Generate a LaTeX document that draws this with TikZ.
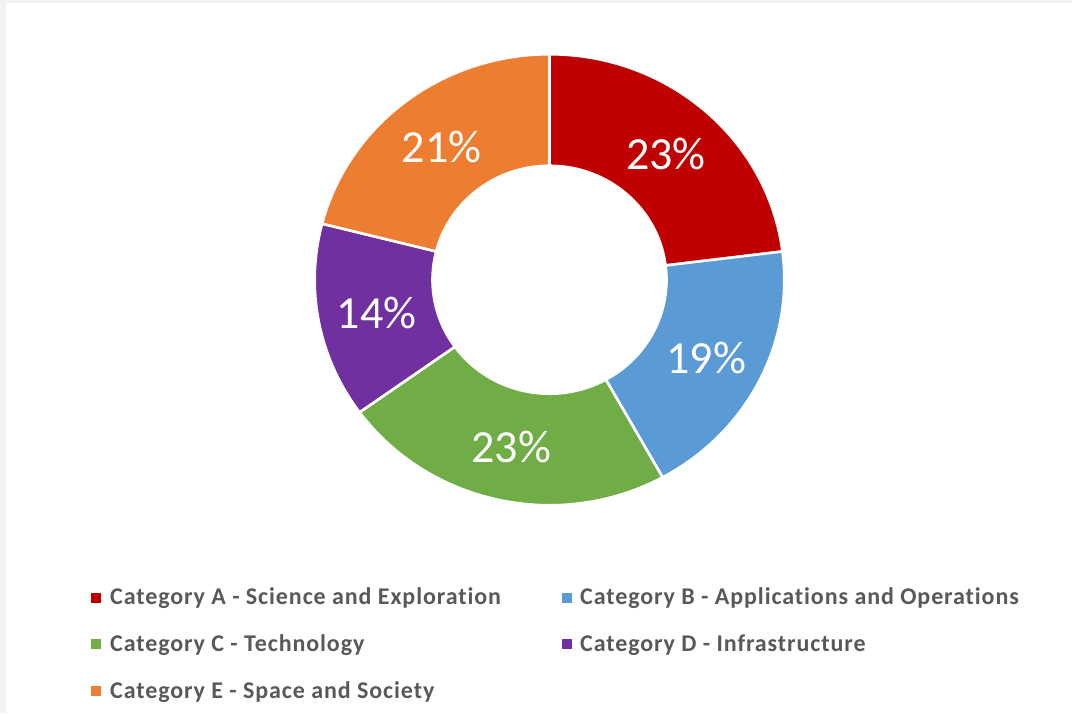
\documentclass[tikz,border=0pt]{standalone}
\usepackage{fontspec}
\setmainfont[Ligatures=NoCommon]{Carlito}
\newfontfamily\legendfont[Ligatures=NoCommon, LetterSpace=3.8]{Carlito}
\definecolor{catA}{HTML}{C00000}
\definecolor{catB}{HTML}{5B9BD5}
\definecolor{catC}{HTML}{70AD47}
\definecolor{catD}{HTML}{7030A0}
\definecolor{catE}{HTML}{ED7D31}
\definecolor{legendgray}{HTML}{595959}
\definecolor{framegray}{HTML}{F2F2F2}
\newcommand\donutslice[5]{%
  \filldraw[slicestyle, fill=#1]
    (#2:234.8 and 225.5) arc[start angle=#2, end angle=#3, x radius=234.8, y radius=225.5]
    -- (#3:117 and 114) arc[start angle=#3, end angle=#2, x radius=117, y radius=114] -- cycle;
  \pgfmathsetmacro\midang{(#2+#3)/2}
  \node[pctlabel] (#5) at (\midang:176 and 170) {#4};
}
\tikzset{
  slicestyle/.style={draw=white, line width=2.6pt, line join=round},
  pctlabel/.style={text=white, font=\fontsize{46}{54}\selectfont, inner sep=0pt, yshift=-1.5pt},
  legendtext/.style={anchor=base west, inner sep=0pt, text=legendgray, font=\legendfont\fontsize{24}{28}\selectfont\bfseries},
  legendkey/.style={minimum size=10pt, inner sep=0pt, draw=none}
}
\begin{document}
\begin{tikzpicture}[x=1pt, y=1pt]
\useasboundingbox (0,0) rectangle (1072,713);
\fill[framegray] (0,0) rectangle (1072,713);
\fill[white] (6,0) rectangle (1072,710);
\begin{scope}[shift={(549.5,433.25)}]
  \donutslice{catA}{90}{7.2}{23\%}{pA}
  \donutslice{catB}{7.2}{-61.2}{19\%}{pB}
  \donutslice{catC}{-61.2}{-144}{23\%}{pC}
  \donutslice{catD}{-144}{-194.4}{14\%}{pD}
  \donutslice{catE}{-194.4}{-270}{21\%}{pE}
\end{scope}
% legend
\node[legendkey, fill=catA] (kA) at (95.7,115) {};
\node[legendtext] (tA) at (110,108.7) {Category A - Science and Exploration};
\node[legendkey, fill=catB] (kB) at (566.7,115) {};
\node[legendtext] (tB) at (580,108.7) {Category B - Applications and Operations};
\node[legendkey, fill=catC] (kC) at (95.7,68.5) {};
\node[legendtext] (tC) at (110,61.5) {Category C - Technology};
\node[legendkey, fill=catD] (kD) at (566.7,68.5) {};
\node[legendtext] (tD) at (580,61.5) {Category D - Infrastructure};
\node[legendkey, fill=catE] (kE) at (95.7,22.5) {};
\node[legendtext] (tE) at (110,14.7) {Category E - Space and Society};
\end{tikzpicture}
\end{document}
